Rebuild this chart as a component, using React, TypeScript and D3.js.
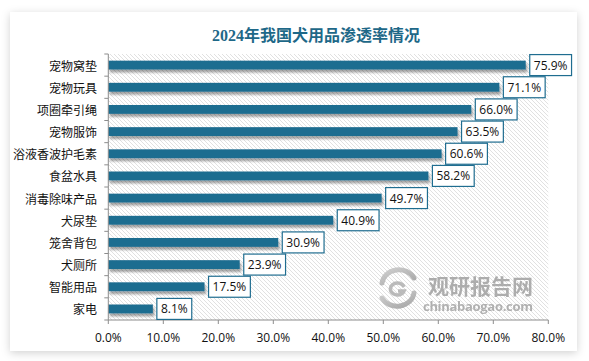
import React from "react";
import * as d3 from "d3";

const categories = ["宠物窝垫", "宠物玩具", "项圈牵引绳", "宠物服饰", "浴液香波护毛素", "食盆水具", "消毒除味产品", "犬尿垫", "笼舍背包", "犬厕所", "智能用品", "家电"];
const values = [75.9, 71.1, 66.0, 63.5, 60.6, 58.2, 49.7, 40.9, 30.9, 23.9, 17.5, 8.1];
const xTicks = [0, 10, 20, 30, 40, 50, 60, 70, 80];
const title = "2024年我国犬用品渗透率情况";

const W = 589, H = 361;
const PL = 108.3, PR = 548.3, PT = 54, PB = 320;
const BAR = "#1f6d90";
const AXIS = "#8c8c8c";
const NUMFONT = "'Open Sans', 'Noto Sans', sans-serif";
const CJKFONT = "'Noto Sans CJK SC', sans-serif";

function textW(s: string) {
  let w = 0;
  for (const c of s) w += c === "." ? 3.2 : c === "%" ? 9.9 : 6.9;
  return w;
}

export default function App() {
  const x = d3.scaleLinear().domain([0, 80]).range([PL, PR]);
  const y = d3.scaleBand<string>().domain(categories).range([PT, PB]).paddingInner(0.6).paddingOuter(0.3);
  const step = y.step();
  const bw = y.bandwidth();
  const bounds = d3.range(categories.length + 1).map((i) => PT + i * step);
  const fmt = (v: number) => v.toFixed(1) + "%";

  return (
    <svg width={W} height={H} style={{ position: "absolute", left: 0, top: 0, background: "#fff" }}>
      <defs>
        <filter id="cardShadow" x="-5%" y="-5%" width="110%" height="115%">
          <feDropShadow dx="0" dy="2" stdDeviation="4" floodColor="#000" floodOpacity="0.18" />
        </filter>
        <filter id="barShadow" x="-5%" y="-50%" width="110%" height="250%">
          <feDropShadow dx="1.5" dy="3" stdDeviation="1.2" floodColor="#000" floodOpacity="0.35" />
        </filter>
        <pattern id="hatch" patternUnits="userSpaceOnUse" width="4" height="4">
          <rect width="4" height="4" fill="#fff" />
          <path d="M-1,-1 L5,5 M3,-1 L5,1 M-1,3 L1,5" stroke="#d9d9d9" strokeWidth="0.8" />
        </pattern>
        <linearGradient id="logoG" x1="0" y1="0" x2="1" y2="1">
          <stop offset="0" stopColor="#c8c8c8" />
          <stop offset="1" stopColor="#9a9a9a" />
        </linearGradient>
      </defs>

      <rect x={10} y={12} width={567} height={339} fill="#fff" filter="url(#cardShadow)" />

      <text x={316} y={35} textAnchor="middle" dominantBaseline="central" fontSize={16} fontWeight="bold"
        fontFamily="'Liberation Serif', 'Noto Sans CJK SC', serif" fill="#1e6888">{title}</text>

      <rect x={PL} y={PT} width={PR - PL} height={PB - PT} fill="url(#hatch)" />

      {/* watermark */}
      <g opacity={0.85}>
        <path d="M382,283 A17,15 0 0 1 414,278" fill="none" stroke="url(#logoG)" strokeWidth={5} strokeLinecap="round" />
        <path d="M414,293 A17,15 0 0 1 382,298" fill="none" stroke="url(#logoG)" strokeWidth={5} strokeLinecap="round" />
        <path d="M404,287 A7,6 0 1 0 404,291 L398,291" fill="none" stroke="#b0b0b0" strokeWidth={3.5} />
        <text x={428} y={294} fontSize={21} fontWeight="bold" fontFamily={CJKFONT} fill="#a0a0a0" textLength={105}>观研报告网</text>
        <text x={423} y={311} fontSize={13} fontWeight="bold" fontFamily={NUMFONT} fill="#a4a4a4" textLength={110}>chinabaogao.com</text>
      </g>

      {/* bars */}
      {categories.map((c, i) => (
        <rect key={c} x={x(0)} y={y(c)!} width={x(values[i]) - x(0)} height={bw} fill={BAR} filter="url(#barShadow)" />
      ))}

      {/* axes */}
      <line x1={PL} x2={PL} y1={PT} y2={PB} stroke={AXIS} />
      <line x1={PL} x2={PR} y1={PB} y2={PB} stroke={AXIS} />
      {bounds.map((b, i) => (
        <line key={i} x1={PL - 4} x2={PL} y1={b} y2={b} stroke={AXIS} />
      ))}
      {xTicks.map((t) => (
        <g key={t}>
          <line x1={x(t)} x2={x(t)} y1={PB} y2={PB + 4} stroke={AXIS} />
          <text x={x(t)} y={337} textAnchor="middle" dominantBaseline="central" fontSize={12} fontFamily={NUMFONT} fill="#111">{fmt(t)}</text>
        </g>
      ))}

      {/* category labels */}
      {categories.map((c) => (
        <text key={c} x={97} y={y(c)! + bw / 2} textAnchor="end" dominantBaseline="central" fontSize={12} fontFamily={CJKFONT} fill="#111">{c}</text>
      ))}

      {/* data labels */}
      {categories.map((c, i) => {
        const s = fmt(values[i]);
        const bx = x(values[i]) + 4;
        const w = textW(s) + 8;
        const cy = y(c)! + bw / 2;
        return (
          <g key={c}>
            <rect x={bx} y={cy - 10.5} width={w} height={21} fill="#fff" stroke={BAR} strokeWidth={1.2} />
            <text x={bx + w / 2} y={cy} textAnchor="middle" dominantBaseline="central" fontSize={12} fontFamily={NUMFONT} fill="#111">{s}</text>
          </g>
        );
      })}
    </svg>
  );
}
